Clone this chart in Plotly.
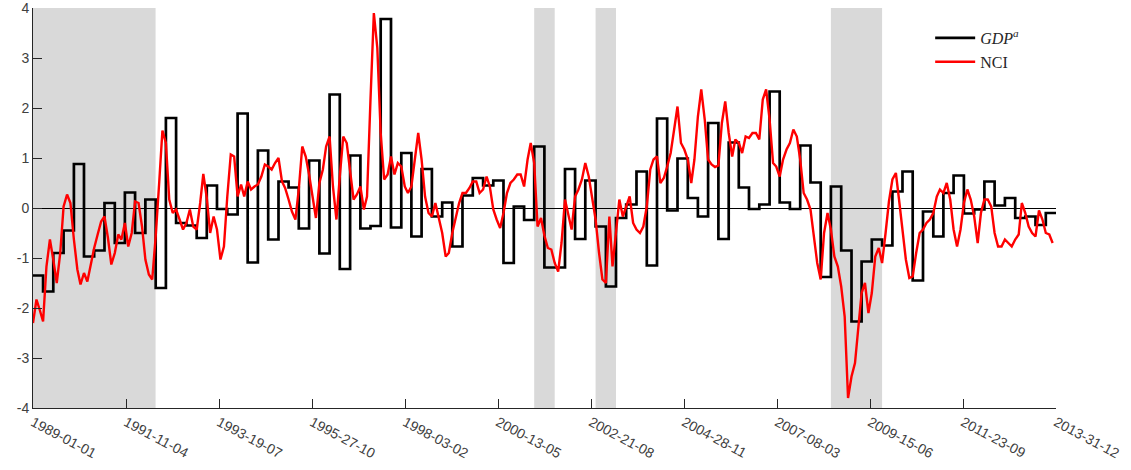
import pandas as pd
import plotly.graph_objects as go

# Quarterly GDP growth (standardised), 1989Q1 - 2013Q4
GDP_START = "1989-01-01"
GDP_VALUES = [
    -1.35, -1.67, -0.90, -0.45, 0.88, -0.97, -0.85, 0.10, -0.70, 0.31,
    -0.50, 0.17, -1.60, 1.80, -0.30, -0.35, -0.60, 0.45, -0.02, -0.13,
    1.89, -1.09, 1.15, -0.63, 0.53, 0.41, -0.41, 0.95, -0.91, 2.27,
    -1.22, 1.05, -0.41, -0.36, 3.78, -0.39, 1.10, -0.57, 0.78, -0.17,
    0.11, -0.77, 0.25, 0.60, 0.45, 0.55, -1.10, 0.03, -0.24, 1.23,
    -1.19, -1.19, 0.78, -0.62, 0.55, -0.37, -1.57, -0.20, 0.07, 0.73,
    -1.15, 1.79, -0.05, 0.99, 0.20, -0.17, 1.70, -0.62, 1.31, 0.41,
    -0.02, 0.07, 2.33, 0.11, -0.02, 1.25, 0.51, -1.38, 0.43, -0.85,
    -2.27, -1.07, -0.63, -0.75, 0.33, 0.73, -1.45, -0.07, -0.57, 0.30,
    0.65, -0.11, -0.03, 0.53, 0.05, 0.20, -0.20, -0.17, -0.34, -0.10,
]

# Monthly NCI, Jan 1989 - Dec 2013
NCI_START = "1989-01-01"
NCI_VALUES = [
    -2.30, -1.83, -2.03, -2.27, -1.17, -0.63, -1.03, -1.50, -0.90, 0.03,
    0.27, 0.10, -0.63, -1.23, -1.53, -1.30, -1.47, -1.10, -0.80, -0.53,
    -0.27, -0.17, -0.60, -1.13, -0.90, -0.53, -0.63, -0.30, -0.77, -0.50,
    0.13, 0.10, -0.37, -1.03, -1.33, -1.43, -0.57, 0.50, 1.55, 1.30,
    0.17, -0.10, -0.03, -0.23, -0.43, -0.30, -0.03, -0.37, -0.43, 0.10,
    0.68, 0.20, -0.50, -0.17, -0.43, -1.03, -0.77, 0.23, 1.07, 1.03,
    0.23, 0.47, 0.23, 0.53, 0.37, 0.43, 0.47, 0.63, 0.87, 0.83,
    0.77, 0.90, 1.00, 0.53, 0.40, 0.17, -0.07, -0.23, 0.37, 1.23,
    1.03, 0.67, 0.23, -0.20, 0.50, 0.77, 1.23, 1.43, 0.43, -0.23,
    0.63, 1.43, 1.30, 0.70, 0.17, 0.27, 0.43, -0.03, 0.23, 2.17,
    3.90, 3.20, 1.50, 0.57, 0.67, 1.03, 0.67, 0.90, 0.83, 0.43,
    0.30, 0.43, 1.00, 1.50, 0.97, 0.23, -0.10, -0.17, 0.10, -0.23,
    -0.50, -0.97, -0.90, -0.50, -0.17, 0.10, 0.30, 0.30, 0.40, 0.53,
    0.53, 0.30, 0.37, 0.63, 0.43, -0.03, -0.23, -0.40, -0.10, 0.30,
    0.50, 0.57, 0.67, 0.67, 0.43, 0.97, 1.30, 0.90, -0.37, -0.20,
    -0.55, -0.80, -0.83, -1.10, -1.27, -0.70, 0.17, -0.17, -0.43, 0.23,
    0.37, 0.57, 0.90, 0.63, 0.17, -0.23, -0.90, -1.43, -1.50, -0.17,
    -1.17, -0.50, 0.17, -0.17, 0.03, 0.23, -0.30, -0.43, -0.50, -0.37,
    0.03, 0.77, 0.97, 1.03, 0.50, 0.60, 0.83, 1.10, 1.57, 2.03,
    1.30, 1.17, 0.97, 0.50, 0.97, 1.83, 2.37, 1.77, 0.97, 0.87,
    0.82, 0.85, 1.70, 2.13, 1.50, 1.03, 1.37, 1.30, 1.10, 1.43,
    1.40, 1.50, 1.50, 1.37, 2.17, 2.37, 1.77, 0.90, 0.83, 0.63,
    0.97, 1.17, 1.30, 1.57, 1.43, 0.97, 0.30, 0.17, -0.03, -0.57,
    -1.10, -1.43, -0.50, -0.10, -0.43, -0.97, -1.17, -1.57, -2.17, -3.80,
    -3.37, -3.10, -2.50, -1.70, -1.50, -2.10, -1.70, -0.97, -0.80, -1.10,
    -0.50, 0.13, 0.57, 0.70, 0.17, -0.50, -1.03, -1.40, -1.37, -0.90,
    -0.50, -0.43, -0.30, -0.23, -0.10, 0.23, 0.37, 0.30, 0.50, 0.17,
    -0.43, -0.77, -0.43, 0.10, 0.37, 0.17, -0.17, -0.70, -0.10, 0.17,
    0.17, 0.03, -0.50, -0.77, -0.77, -0.63, -0.70, -0.77, -0.63, -0.53,
    0.10, -0.10, -0.37, -0.50, -0.57, -0.05, -0.23, -0.50, -0.53, -0.70,
]

# Recession periods (shaded)
RECESSION_STARTS = ["1989-01-01", "2001-04-01", "2002-10-01", "2008-07-01"]
RECESSION_ENDS = ["1991-12-31", "2001-10-01", "2003-04-01", "2009-10-01"]

# Date tick labels (year-day-month)
TICK_LABELS = [
    "1989-01-01", "1991-11-04", "1993-19-07", "1995-27-10", "1998-03-02",
    "2000-13-05", "2002-21-08", "2004-28-11", "2007-08-03", "2009-15-06",
    "2011-23-09", "2013-31-12",
]
Y_TICKS = [4, 3, 2, 1, 0, -1, -2, -3, -4]

X_END = "2013-12-31"

gdp_dates = pd.date_range(GDP_START, periods=len(GDP_VALUES), freq="QS")
nci_dates = pd.date_range(NCI_START, periods=len(NCI_VALUES), freq="MS")
tick_vals = pd.to_datetime(TICK_LABELS, format="%Y-%d-%m")

# extend the last quarter's step to the end of the sample
gdp_x = list(gdp_dates) + [pd.Timestamp(X_END)]
gdp_y = list(GDP_VALUES) + [GDP_VALUES[-1]]

fig = go.Figure()

fig.add_trace(go.Scatter(
    x=gdp_x, y=gdp_y, mode="lines", line_shape="hv",
    line=dict(color="black", width=2.7),
    name="<i>GDP</i><sup><i>a</i></sup>",
))
fig.add_trace(go.Scatter(
    x=nci_dates, y=NCI_VALUES, mode="lines",
    line=dict(color="#ff0000", width=2.4),
    name="NCI",
))

for s, e in zip(RECESSION_STARTS, RECESSION_ENDS):
    fig.add_shape(
        type="rect", xref="x", yref="paper", x0=s, x1=e, y0=0, y1=1,
        fillcolor="#d9d9d9", line_width=0, layer="below",
    )

axis_color = "#262626"
tick_font = dict(family="Liberation Sans, Arial, sans-serif", size=14, color="#404040")

fig.update_layout(
    width=1131, height=470,
    margin=dict(l=33, r=75, t=8, b=62),
    paper_bgcolor="white", plot_bgcolor="white",
    showlegend=True,
    legend=dict(
        x=0.877, y=0.9675, xanchor="left", yanchor="top",
        bgcolor="rgba(0,0,0,0)", borderwidth=0,
        font=dict(family="Liberation Serif, Times New Roman, serif", size=16, color="#262626"),
        tracegroupgap=0, itemwidth=40,
    ),
    xaxis=dict(
        type="date", range=[NCI_START, X_END], automargin=False,
        tickmode="array", tickvals=tick_vals, ticktext=TICK_LABELS,
        tickangle=28, tickfont=tick_font, ticklabeloverflow="allow",
        ticks="inside", ticklen=9, tickwidth=1, tickcolor=axis_color,
        showline=True, linecolor=axis_color, linewidth=1,
        showgrid=False, zeroline=False,
    ),
    yaxis=dict(
        range=[-4, 4], automargin=False,
        tickmode="array", tickvals=Y_TICKS, ticktext=[str(v) for v in Y_TICKS],
        tickfont=tick_font, ticklabeloverflow="allow",
        ticks="inside", ticklen=9, tickwidth=1, tickcolor=axis_color,
        showline=True, linecolor=axis_color, linewidth=1,
        showgrid=False,
        zeroline=True, zerolinecolor="black", zerolinewidth=1,
    ),
)

fig.write_html("out.html")
